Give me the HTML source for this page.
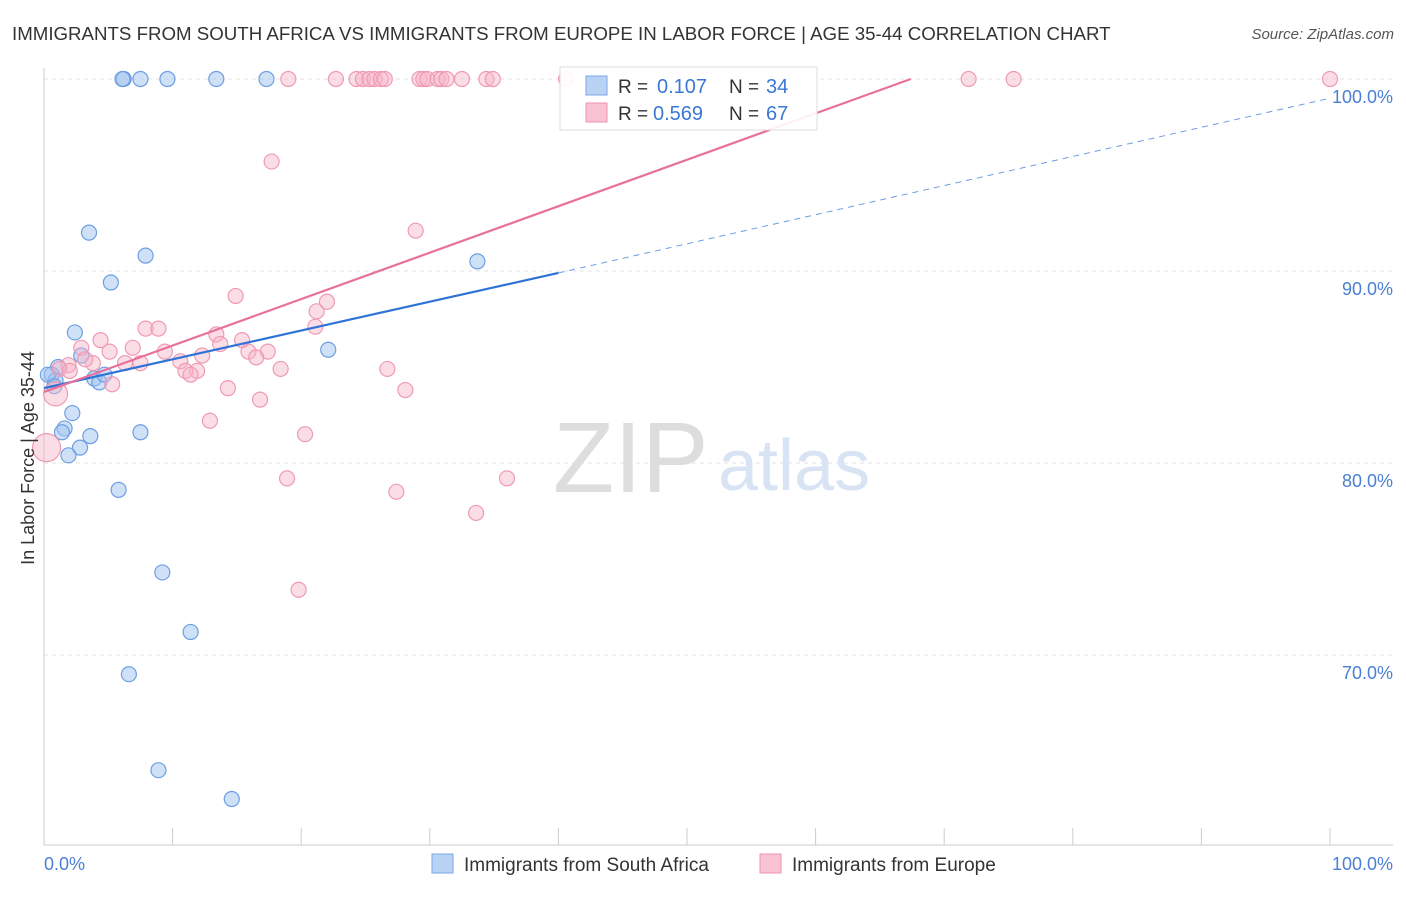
<!DOCTYPE html>
<html><head><meta charset="utf-8"><style>
body{margin:0;background:#fff;font-family:"Liberation Sans",sans-serif;}
svg text{font-family:"Liberation Sans",sans-serif;}
</style></head><body>
<svg id="chart" width="1406" height="892">
<text x="12" y="40" font-size="18.7" fill="#333">IMMIGRANTS FROM SOUTH AFRICA VS IMMIGRANTS FROM EUROPE IN LABOR FORCE | AGE 35-44 CORRELATION CHART</text>
<text x="1394" y="39" font-size="15" fill="#555" font-style="italic" text-anchor="end">Source: ZipAtlas.com</text>
<g id="grid"></g>
<text x="553" y="492" font-size="100" fill="#ddd" font-family="Liberation Serif">ZIP</text>
<text x="718" y="490" font-size="72" fill="#d8e4f4">atlas</text>
<g id="marks"></g>
<text transform="translate(34,458) rotate(-90)" font-size="18" fill="#333" text-anchor="middle">In Labor Force | Age 35-44</text>
<text x="44" y="870" font-size="18" fill="#4a7fd4">0.0%</text>
<text x="1393" y="870" font-size="18" fill="#4a7fd4" text-anchor="end">100.0%</text>
<g>
<rect x="560" y="67" width="257" height="63" fill="#fff" fill-opacity="0.9" stroke="#ddd"/>
<rect x="586" y="76" width="21" height="19" fill="#b9d3f5" stroke="#7aa6e6"/>
<rect x="586" y="103" width="21" height="19" fill="#f9c3d3" stroke="#ee93ae"/>
<text x="618" y="93" font-size="19" fill="#333">R =</text>
<text x="657" y="93" font-size="20" fill="#3a78d4">0.107</text>
<text x="729" y="93" font-size="19" fill="#333">N =</text>
<text x="766" y="93" font-size="20" fill="#3a78d4">34</text>
<text x="618" y="120" font-size="19" fill="#333">R =</text>
<text x="653" y="120" font-size="20" fill="#3a78d4">0.569</text>
<text x="729" y="120" font-size="19" fill="#333">N =</text>
<text x="766" y="120" font-size="20" fill="#3a78d4">67</text>
</g>
<g>
<rect x="432" y="854" width="21" height="19" fill="#b9d3f5" stroke="#7aa6e6"/>
<text x="464" y="871" font-size="19" fill="#333">Immigrants from South Africa</text>
<rect x="760" y="854" width="21" height="19" fill="#f9c3d3" stroke="#ee93ae"/>
<text x="792" y="871" font-size="19" fill="#333">Immigrants from Europe</text>
</g>
</svg>
<script>
const yTicks=[100,90,80,70];
const yTickLabels=["100.0%","90.0%","80.0%","70.0%"];
const xTicks=[0,10,20,30,40,50,60,70,80,90,100];
const blueX=[6.2,6.1,7.5,9.6,13.4,17.3,3.5,7.9,5.2,33.7,2.4,22.1,2.9,1.1,0.6,0.9,3.9,4.3,4.7,2.2,1.6,1.4,3.6,2.8,1.9,7.5,5.8,9.2,11.4,6.6,8.9,14.6,0.3,0.8];
const blueY=[100,100,100,100,100,100,92,90.8,89.4,90.5,86.8,85.9,85.6,85,84.6,84.3,84.4,84.2,84.6,82.6,81.8,81.6,81.4,80.8,80.4,81.6,78.6,74.3,71.2,69,64,62.5,84.6,84];
const pinkX=[19.0,22.7,24.3,24.8,25.3,25.7,26.2,26.5,29.2,29.5,29.8,30.6,30.9,31.3,32.5,34.4,34.9,40.6,71.9,75.4,100,17.7,28.9,14.9,22.0,21.2,21.1,7.9,8.9,13.4,4.4,13.7,15.4,2.9,5.1,6.9,9.4,17.4,15.9,16.5,12.3,10.6,6.3,7.5,3.8,1.9,1.2,3.2,11.9,11.0,11.4,18.4,26.7,5.3,14.3,28.1,16.8,12.9,20.3,18.9,27.4,36.0,33.6,19.8,0.2,0.9,2.0];
const pinkY=[100,100,100,100,100,100,100,100,100,100,100,100,100,100,100,100,100,100,100,100,100,95.7,92.1,88.7,88.4,87.9,87.1,87,87,86.7,86.4,86.2,86.4,86,85.8,86,85.8,85.8,85.8,85.5,85.6,85.3,85.2,85.2,85.2,85.1,84.9,85.4,84.8,84.8,84.6,84.9,84.9,84.1,83.9,83.8,83.3,82.2,81.5,79.2,78.5,79.2,77.4,73.4,80.8,83.6,84.8];
const X=v=>44+v*12.86, Y=v=>79+(100-v)*19.2;
const ns="http://www.w3.org/2000/svg";
const g=document.getElementById('grid'), m=document.getElementById('marks');
function mk(t,a,p){const e=document.createElementNS(ns,t);for(const k in a)e.setAttribute(k,a[k]);p.appendChild(e);return e;}
yTicks.forEach((t,i)=>{const l=mk('line',{x1:44,x2:1393,y1:Y(t),y2:Y(t),stroke:'#e2e2e2','stroke-dasharray':'4,4'},g);


const tx=mk('text',{x:1393,y:Y(t)+24,'font-size':18,fill:'#4a7fd4','text-anchor':'end'},g);tx.textContent=yTickLabels[i];

});
mk('line',{x1:44,x2:44,y1:68,y2:845,stroke:'#ccc'},g);
mk('line',{x1:44,x2:1393,y1:845,y2:845,stroke:'#ccc'},g);
xTicks.forEach(t=>{const l=mk('line',{x1:X(t),x2:X(t),y1:828,y2:845,stroke:'#ccc'},g);

});
blueX.forEach((x,i)=>{const c=mk('circle',{cx:X(x),cy:Y(blueY[i]),r:7.5,fill:'rgba(160,195,240,0.5)',stroke:'#6d9ee3','stroke-width':1.2},m);

});
pinkX.forEach((x,i)=>{const r=i==64?14:(i==65?12:7.5);const c=mk('circle',{cx:X(x),cy:Y(pinkY[i]),r:r,fill:'rgba(247,180,200,0.45)',stroke:'#ef9ab3','stroke-width':1.2},m);

});
let l=mk('line',{x1:X(0),y1:Y(83.9),x2:X(40),y2:Y(89.9),stroke:'#2f73d6','stroke-width':2.2},m);


l=mk('line',{x1:X(40),y1:Y(89.9),x2:X(100),y2:Y(99),stroke:'#6d9ee3','stroke-width':1,'stroke-dasharray':'6,5'},m);


l=mk('line',{x1:X(0),y1:Y(83.7),x2:X(67.4),y2:Y(100),stroke:'#e8709a','stroke-width':2.2},m);


</script>
</body></html>
